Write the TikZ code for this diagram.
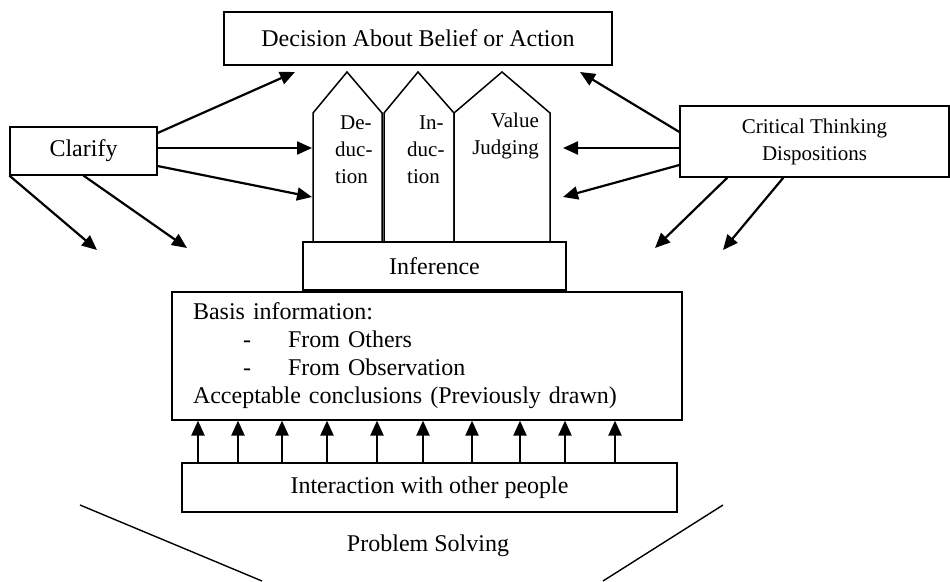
\documentclass[tikz,border=0pt]{standalone}
\usepackage{fontspec}
\setmainfont{Liberation Serif}
\usetikzlibrary{arrows.meta}
\begin{document}
\begin{tikzpicture}[x=1pt,y=-1pt,
  box/.style={draw, line width=1.2pt, fill=white, inner sep=0pt},
  arr/.style={line width=2.2pt, -{Triangle[length=15pt,width=13pt]}},
  pent/.style={draw, line width=1.5pt, line join=miter},
  big/.style={font=\fontsize{24}{28}\selectfont},
  mid/.style={font=\fontsize{21}{27}\selectfont}]
\useasboundingbox (0,0) rectangle (950,581);

% boxes
\node[box, big, minimum width=388pt, minimum height=53pt] (dec) at (418,38.5) {Decision About Belief or Action};
\node[box, big, minimum width=147pt, minimum height=48pt] (clar) at (83.5,151) {Clarify};
\node[box, mid, align=center, minimum width=269pt, minimum height=71pt] (crit) at (814.5,141.5) {Critical Thinking\\Dispositions};
\node[box, big, minimum width=263pt, minimum height=48pt] (inf) at (434.5,266) {Inference};
\node[box, big, align=left, text width=468pt, inner xsep=21pt, minimum height=128pt] (basis) at (427,356)
  {Basis information:\\
   \hspace*{50pt}\makebox[45pt][l]{-}From Others\\
   \hspace*{50pt}\makebox[45pt][l]{-}From Observation\\
   Acceptable conclusions (Previously drawn)};
\node[box, big, minimum width=495pt, minimum height=49pt] (inter) at (429.5,487.5) {Interaction with other people};
\node[big] (ps) at (428,546) {Problem Solving};

% pentagons
\draw[pent] (313,242) -- (313,113) -- (347,72) -- (382,113) -- (382,242);
\draw[pent] (384,242) -- (384,113) -- (418,72) -- (454,113) -- (454,242);
\draw[pent] (454,242) -- (454,113) -- (502,72) -- (550,113) -- (550,242);
\node[mid, align=left, inner sep=0pt, anchor=west] (ded) at (335,150) {\hspace*{5pt}De-\\duc-\\tion};
\node[mid, align=left, inner sep=0pt, anchor=west] (ind) at (407,150) {\hspace*{12pt}In-\\duc-\\tion};
\node[mid, align=right, inner sep=0pt, anchor=east] (val) at (539,136) {Value\\Judging};

% arrow end points
\coordinate (dedA) at (312,148);
\coordinate (dedB) at (312,197);
\coordinate (valA) at (563,148);
\coordinate (valB) at (563,197);
\coordinate (decL) at (295,72);
\coordinate (decR) at (580,72);
\coordinate (d1) at (97,250);
\coordinate (d2) at (187,248);
\coordinate (d3) at (655,248);
\coordinate (d4) at (723,250);

% clarify arrows
\draw[arr] ([yshift=18pt]clar.east) -- (decL);
\draw[arr] ([yshift=3pt]clar.east) -- (dedA);
\draw[arr] ([yshift=-15pt]clar.east) -- (dedB);
\draw[arr] (clar.south west) -- (d1);
\draw[arr] (clar.south) -- (d2);

% critical thinking arrows
\draw[arr] ([yshift=9.5pt]crit.west) -- (decR);
\draw[arr] ([yshift=-6.5pt]crit.west) -- (valA);
\draw[arr] ([yshift=-23.5pt]crit.west) -- (valB);
\draw[arr] ([xshift=48pt]crit.south west) -- (d3);
\draw[arr] ([xshift=104pt]crit.south west) -- (d4);

% interaction arrows
\foreach \x in {198,238,282,327,377,423,472,520,565,615}{
  \path (\x,0) coordinate (tmp);
  \draw[arr] (tmp |- inter.north) -- (tmp |- basis.south);
}

% problem solving lines
\coordinate (psL1) at (80,505);
\coordinate (psL2) at (262,581);
\coordinate (psR1) at (723,505);
\coordinate (psR2) at (603,581);
\draw[line width=1.4pt] (psL1) -- (psL2);
\draw[line width=1.4pt] (psR1) -- (psR2);
\end{tikzpicture}
\end{document}
